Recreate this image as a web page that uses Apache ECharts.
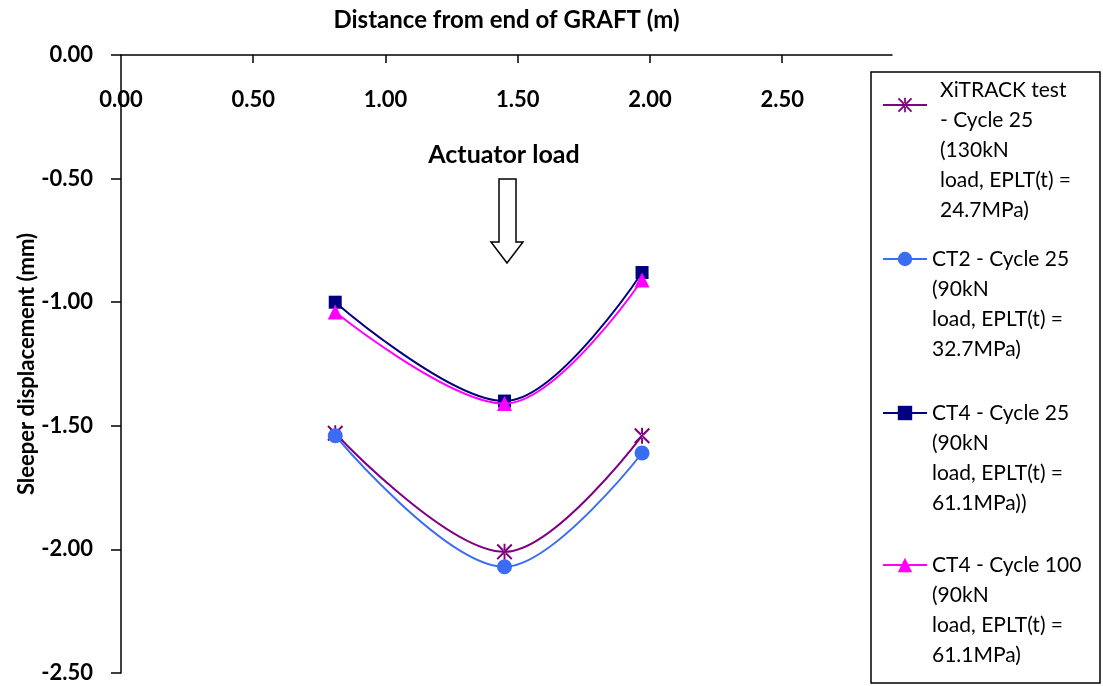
<!DOCTYPE html>
<html>
<head>
<meta charset="utf-8">
<title>Sleeper displacement</title>
<script src="https://cdn.jsdelivr.net/npm/echarts@6/dist/echarts.min.js"></script>
<style>
  html, body { margin: 0; padding: 0; background: #fff; }
  #chart { width: 1103px; height: 686px; }
</style>
</head>
<body>
<div id="chart"></div>
<script>
// Sleeper positions along the track (m)
const sleeperX = [0.81, 1.45, 1.97];

// Sleeper displacement (mm) for each test
const xitrackCycle25 = [-1.53, -2.01, -1.54];
const ct2Cycle25 = [-1.54, -2.07, -1.61];
const ct4Cycle25 = [-1.00, -1.40, -0.88];
const ct4Cycle100 = [-1.04, -1.41, -0.91];

// Series names as shown in the legend
const seriesNames = [
  'XiTRACK test\n- Cycle 25\n(130kN\nload, EPLT(t) =\n24.7MPa)',
  'CT2 - Cycle 25\n(90kN\nload, EPLT(t) =\n32.7MPa)',
  'CT4 - Cycle 25\n(90kN\nload, EPLT(t) =\n61.1MPa))',
  'CT4 - Cycle 100\n(90kN\nload, EPLT(t) =\n61.1MPa)'
];

// Axis tick values
const xTickLabels = [0, 0.5, 1.0, 1.5, 2.0, 2.5];
const xTickMarks = [0.5, 1.0, 1.5, 2.0, 2.5];
const yTicks = [0, -0.5, -1.0, -1.5, -2.0, -2.5];

const FONT = 'Lato, "Open Sans", sans-serif';

// Asterisk marker: a vertical bar crossed by two diagonals
const asterisk = 'path://M44,0L56,0L56,100L44,100Z M9,0L0,9L91,100L100,91Z M91,0L100,9L9,100L0,91Z';

function pairs(ys) {
  return sleeperX.map((x, i) => [x, ys[i]]);
}

const colors = ['#800080', '#3a6cf4', '#000080', '#ff00ff'];
const symbols = [asterisk, 'circle', 'rect', 'triangle'];
const symbolSizes = [16, 15, 13, 15];
const values = [xitrackCycle25, ct2Cycle25, ct4Cycle25, ct4Cycle100];

const series = values.map((ys, i) => ({
  name: seriesNames[i],
  type: 'line',
  smooth: 0.35,
  data: pairs(ys),
  symbol: symbols[i],
  symbolSize: symbolSizes[i],
  showAllSymbol: true,
  lineStyle: { color: colors[i], width: 2 },
  itemStyle: { color: colors[i] },
  emphasis: { disabled: true },
  z: 2 + i
}));

// One legend block per series, stacked inside the framed box.
// Leading blank lines keep each marker level with the top of its text.
const LINE_H = 30;
const legendLayout = [
  { iconY: 105, lines: 8, blank: 3, left: 882, textPad: 8 },
  { iconY: 259, lines: 7, blank: 3, left: 882, textPad: 0 },
  { iconY: 413, lines: 7, blank: 3, left: 882, textPad: 0 },
  { iconY: 565, lines: 7, blank: 3, left: 882, textPad: 0 }
];
const legends = seriesNames.map((name, i) => {
  const lay = legendLayout[i];
  return {
    data: [name],
    left: lay.left,
    top: lay.iconY - lay.lines * LINE_H / 2,
    padding: 0,
    orient: 'vertical',
    itemWidth: 44,
    itemHeight: 18,
    selectedMode: false,
    formatter: n => '\n'.repeat(lay.blank) + n,
    textStyle: {
      fontFamily: FONT,
      fontSize: 21,
      lineHeight: LINE_H,
      color: '#000',
      padding: [0, 0, 0, lay.textPad]
    }
  };
});

const chart = echarts.init(document.getElementById('chart'), null, { renderer: 'canvas' });

chart.setOption({
  animation: false,
  backgroundColor: '#fff',
  grid: { left: 121, top: 55, right: 211, bottom: 13 },
  xAxis: {
    type: 'value',
    position: 'top',
    min: 0,
    max: 2.915,
    interval: 0.5,
    name: 'Distance from end of GRAFT (m)',
    nameLocation: 'middle',
    nameGap: 23,
    nameTextStyle: { fontFamily: FONT, fontSize: 24, fontWeight: 'bold', color: '#000' },
    axisLine: { show: true, lineStyle: { color: '#000', width: 1.5 } },
    axisTick: { show: true, inside: true, length: 8, customValues: xTickMarks, lineStyle: { color: '#000', width: 1.5 } },
    axisLabel: {
      inside: true,
      margin: 34,
      customValues: xTickLabels,
      formatter: v => v.toFixed(2),
      fontFamily: FONT, fontSize: 22, fontWeight: 'bold', color: '#000'
    },
    splitLine: { show: false }
  },
  yAxis: {
    type: 'value',
    min: -2.5,
    max: 0,
    interval: 0.5,
    name: 'Sleeper displacement (mm)',
    nameLocation: 'middle',
    nameRotate: 90,
    nameGap: 83,
    nameMoveOverlap: false,
    nameTextStyle: { fontFamily: FONT, fontSize: 22, fontWeight: 'bold', color: '#000' },
    axisLine: { show: true, lineStyle: { color: '#000', width: 1.5 } },
    axisTick: { show: true, inside: false, length: 10, customValues: yTicks, lineStyle: { color: '#000', width: 1.5 } },
    axisLabel: {
      margin: 28,
      customValues: yTicks,
      formatter: v => v.toFixed(2),
      fontFamily: FONT, fontSize: 22, fontWeight: 'bold', color: '#000'
    },
    splitLine: { show: false }
  },
  legend: legends,
  graphic: [
    {
      type: 'rect',
      shape: { x: 871, y: 72, width: 229, height: 611 },
      style: { fill: 'none', stroke: '#000', lineWidth: 1.5 },
      silent: true,
      z: 0
    },
    {
      type: 'text',
      x: 504, y: 155,
      style: {
        text: 'Actuator load',
        fontFamily: FONT, fontSize: 25, fontWeight: 'bold', fill: '#000',
        align: 'center', verticalAlign: 'middle'
      },
      silent: true
    },
    {
      type: 'polygon',
      shape: { points: [[499, 179], [516, 179], [516, 242], [523, 242], [507, 263], [491, 242], [499, 242]] },
      style: { fill: '#fff', stroke: '#000', lineWidth: 1.5 },
      silent: true
    }
  ],
  series: series
});
</script>
</body>
</html>
